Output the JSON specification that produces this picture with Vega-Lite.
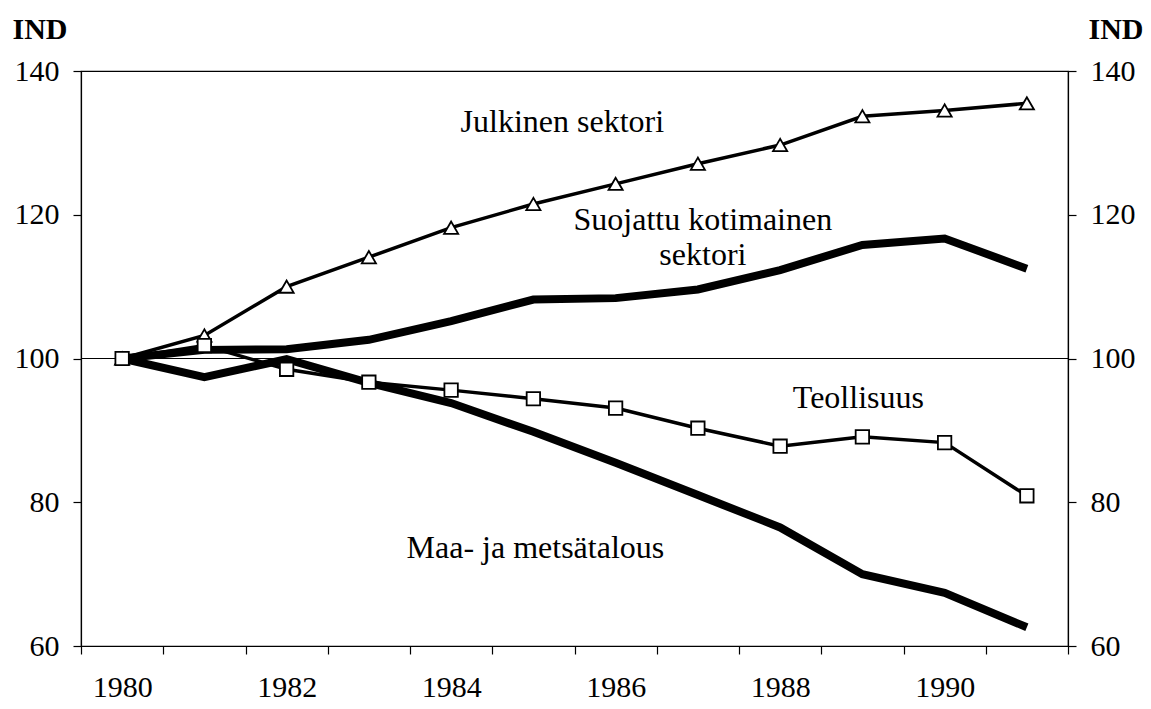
{
  "$schema": "https://vega.github.io/schema/vega-lite/v6.json",
  "width": 987,
  "height": 575,
  "autosize": {"type": "none"},
  "padding": {"left": 81, "top": 71, "right": 83, "bottom": 63},
  "background": "white",
  "config": {
    "font": "Liberation Serif",
    "view": {"stroke": "black", "strokeWidth": 1.2},
    "axis": {
      "domainColor": "black", "domainWidth": 1.2,
      "tickColor": "black", "tickWidth": 1.2, "tickSize": 8,
      "labelColor": "black", "titleColor": "black",
      "labelFont": "Liberation Serif",
      "titleFont": "Liberation Serif",
      "labelFontSize": 30, "grid": false
    },
    "text": {"font": "Liberation Serif", "fontSize": 32, "color": "black"}
  },
  "datasets": {
    "series": [
      {"series": "Julkinen", "year": 1980, "value": 100},
      {"series": "Julkinen", "year": 1981, "value": 103.2},
      {"series": "Julkinen", "year": 1982, "value": 110.0},
      {"series": "Julkinen", "year": 1983, "value": 114.1},
      {"series": "Julkinen", "year": 1984, "value": 118.2},
      {"series": "Julkinen", "year": 1985, "value": 121.5},
      {"series": "Julkinen", "year": 1986, "value": 124.3},
      {"series": "Julkinen", "year": 1987, "value": 127.1},
      {"series": "Julkinen", "year": 1988, "value": 129.7},
      {"series": "Julkinen", "year": 1989, "value": 133.7},
      {"series": "Julkinen", "year": 1990, "value": 134.5},
      {"series": "Julkinen", "year": 1991, "value": 135.5},
      {"series": "Suojattu", "year": 1980, "value": 100},
      {"series": "Suojattu", "year": 1981, "value": 101.2},
      {"series": "Suojattu", "year": 1982, "value": 101.3},
      {"series": "Suojattu", "year": 1983, "value": 102.6},
      {"series": "Suojattu", "year": 1984, "value": 105.2},
      {"series": "Suojattu", "year": 1985, "value": 108.2},
      {"series": "Suojattu", "year": 1986, "value": 108.4},
      {"series": "Suojattu", "year": 1987, "value": 109.6},
      {"series": "Suojattu", "year": 1988, "value": 112.3},
      {"series": "Suojattu", "year": 1989, "value": 115.8},
      {"series": "Suojattu", "year": 1990, "value": 116.7},
      {"series": "Suojattu", "year": 1991, "value": 112.5},
      {"series": "Teollisuus", "year": 1980, "value": 100},
      {"series": "Teollisuus", "year": 1981, "value": 101.8},
      {"series": "Teollisuus", "year": 1982, "value": 98.5},
      {"series": "Teollisuus", "year": 1983, "value": 96.7},
      {"series": "Teollisuus", "year": 1984, "value": 95.6},
      {"series": "Teollisuus", "year": 1985, "value": 94.4},
      {"series": "Teollisuus", "year": 1986, "value": 93.1},
      {"series": "Teollisuus", "year": 1987, "value": 90.3},
      {"series": "Teollisuus", "year": 1988, "value": 87.8},
      {"series": "Teollisuus", "year": 1989, "value": 89.1},
      {"series": "Teollisuus", "year": 1990, "value": 88.3},
      {"series": "Teollisuus", "year": 1991, "value": 80.9},
      {"series": "Maa", "year": 1980, "value": 100},
      {"series": "Maa", "year": 1981, "value": 97.4},
      {"series": "Maa", "year": 1982, "value": 99.9},
      {"series": "Maa", "year": 1983, "value": 96.6},
      {"series": "Maa", "year": 1984, "value": 93.8},
      {"series": "Maa", "year": 1985, "value": 89.8},
      {"series": "Maa", "year": 1986, "value": 85.5},
      {"series": "Maa", "year": 1987, "value": 81.0},
      {"series": "Maa", "year": 1988, "value": 76.5},
      {"series": "Maa", "year": 1989, "value": 70.0},
      {"series": "Maa", "year": 1990, "value": 67.4},
      {"series": "Maa", "year": 1991, "value": 62.6}
    ],
    "ref": [{"ref": 100}],
    "notes": [
      {"label": "Julkinen sektori", "year": 1985, "value": 131.5, "key": "a"},
      {"label": "Suojattu kotimainen", "year": 1987, "value": 117.9, "key": "b"},
      {"label": "sektori", "year": 1987, "value": 113.0, "key": "b"},
      {"label": "Teollisuus", "year": 1989, "value": 93.1, "key": "c"},
      {"label": "Maa- ja metsätalous", "year": 1985, "value": 72.2, "key": "d"}
    ]
  },
  "layer": [
    {
      "data": {"name": "ref"},
      "mark": {"type": "rule", "color": "black", "strokeWidth": 1.2},
      "encoding": {
        "y": {"field": "ref", "type": "quantitative",
              "scale": {"domain": [60, 140], "nice": false, "zero": false},
              "axis": {"orient": "left", "values": [60, 80, 100, 120, 140], "labelPadding": 14,
                       "title": "IND", "titleAngle": 0, "titleAlign": "left", "titleBaseline": "alphabetic",
                       "titleX": -69, "titleY": -33, "titleFontSize": 30, "titleFontWeight": "bold"}}
      }
    },
    {
      "data": {"name": "series"},
      "transform": [{"filter": "datum.series === 'Suojattu' || datum.series === 'Maa'"}],
      "mark": {"type": "line", "color": "black", "strokeWidth": 8},
      "encoding": {
        "x": {"field": "year", "type": "ordinal", "bandPosition": 0.5,
              "scale": {"type": "band", "paddingInner": 0, "paddingOuter": 0},
              "axis": {"title": null, "tickBand": "extent", "labelAngle": 0, "labelPadding": 18,
                       "labelExpr": "datum.value % 2 == 0 ? datum.label : ''"}},
        "y": {"field": "value", "type": "quantitative",
              "scale": {"domain": [60, 140], "nice": false, "zero": false},
              "axis": {"orient": "right", "values": [60, 80, 100, 120, 140], "labelPadding": 14,
                       "title": "IND", "titleAngle": 0, "titleAlign": "left", "titleBaseline": "alphabetic",
                       "titleX": 20, "titleY": -33, "titleFontSize": 30, "titleFontWeight": "bold"}},
        "detail": {"field": "series"}
      }
    },
    {
      "data": {"name": "series"},
      "transform": [{"filter": "datum.series === 'Julkinen' || datum.series === 'Teollisuus'"}],
      "mark": {"type": "line", "color": "black", "strokeWidth": 3.5},
      "encoding": {
        "x": {"field": "year", "type": "ordinal", "bandPosition": 0.5,
              "scale": {"type": "band", "paddingInner": 0, "paddingOuter": 0}},
        "y": {"field": "value", "type": "quantitative",
              "scale": {"domain": [60, 140], "nice": false, "zero": false}, "axis": null},
        "detail": {"field": "series"}
      }
    },
    {
      "data": {"name": "series"},
      "transform": [{"filter": "datum.series === 'Julkinen'"}],
      "mark": {"type": "point", "shape": "triangle-up", "filled": true, "fill": "white",
               "stroke": "black", "strokeWidth": 1.8, "size": 200, "opacity": 1},
      "encoding": {
        "x": {"field": "year", "type": "ordinal", "bandPosition": 0.5,
              "scale": {"type": "band", "paddingInner": 0, "paddingOuter": 0}},
        "y": {"field": "value", "type": "quantitative",
              "scale": {"domain": [60, 140], "nice": false, "zero": false}, "axis": null}
      }
    },
    {
      "data": {"name": "series"},
      "transform": [{"filter": "datum.series === 'Teollisuus'"}],
      "mark": {"type": "point", "shape": "square", "filled": true, "fill": "white",
               "stroke": "black", "strokeWidth": 1.8, "size": 180, "opacity": 1},
      "encoding": {
        "x": {"field": "year", "type": "ordinal", "bandPosition": 0.5,
              "scale": {"type": "band", "paddingInner": 0, "paddingOuter": 0}},
        "y": {"field": "value", "type": "quantitative",
              "scale": {"domain": [60, 140], "nice": false, "zero": false}, "axis": null}
      }
    },
    {
      "data": {"name": "notes"},
      "transform": [{"filter": "datum.key === 'a'"}],
      "mark": {"type": "text", "align": "center", "baseline": "alphabetic", "dx": 29},
      "encoding": {
        "x": {"field": "year", "type": "ordinal", "bandPosition": 0.5,
              "scale": {"type": "band", "paddingInner": 0, "paddingOuter": 0}},
        "y": {"field": "value", "type": "quantitative",
              "scale": {"domain": [60, 140], "nice": false, "zero": false}, "axis": null},
        "text": {"field": "label"}
      }
    },
    {
      "data": {"name": "notes"},
      "transform": [{"filter": "datum.key === 'b'"}],
      "mark": {"type": "text", "align": "center", "baseline": "alphabetic", "dx": 5},
      "encoding": {
        "x": {"field": "year", "type": "ordinal", "bandPosition": 0.5,
              "scale": {"type": "band", "paddingInner": 0, "paddingOuter": 0}},
        "y": {"field": "value", "type": "quantitative",
              "scale": {"domain": [60, 140], "nice": false, "zero": false}, "axis": null},
        "text": {"field": "label"}
      }
    },
    {
      "data": {"name": "notes"},
      "transform": [{"filter": "datum.key === 'c'"}],
      "mark": {"type": "text", "align": "center", "baseline": "alphabetic", "dx": -4},
      "encoding": {
        "x": {"field": "year", "type": "ordinal", "bandPosition": 0.5,
              "scale": {"type": "band", "paddingInner": 0, "paddingOuter": 0}},
        "y": {"field": "value", "type": "quantitative",
              "scale": {"domain": [60, 140], "nice": false, "zero": false}, "axis": null},
        "text": {"field": "label"}
      }
    },
    {
      "data": {"name": "notes"},
      "transform": [{"filter": "datum.key === 'd'"}],
      "mark": {"type": "text", "align": "center", "baseline": "alphabetic", "dx": 2},
      "encoding": {
        "x": {"field": "year", "type": "ordinal", "bandPosition": 0.5,
              "scale": {"type": "band", "paddingInner": 0, "paddingOuter": 0}},
        "y": {"field": "value", "type": "quantitative",
              "scale": {"domain": [60, 140], "nice": false, "zero": false}, "axis": null},
        "text": {"field": "label"}
      }
    }
  ],
  "resolve": {"axis": {"y": "independent"}}
}
